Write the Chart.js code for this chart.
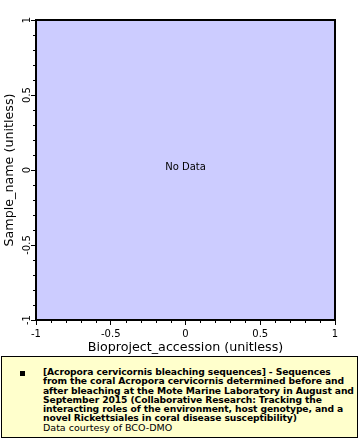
<!DOCTYPE html>
<html>
<head>
<meta charset="utf-8">
<script src="https://cdn.jsdelivr.net/npm/chart.js@4.4.0/dist/chart.umd.js"></script>
<style>
  html, body { margin: 0; padding: 0; background: #ffffff; }
  #wrap { position: relative; width: 360px; height: 440px; }
  #legend {
    position: absolute;
    left: 1px;
    top: 356px;
    width: 357px;
    height: 82px;
    box-sizing: border-box;
    background: #ffffcc;
    border: 1px solid #000000;
    font-family: 'DejaVu Sans', sans-serif;
    color: #000000;
  }
  #legend .mark {
    position: absolute;
    left: 18px;
    top: 14px;
    width: 5px;
    height: 5px;
    background: #000000;
  }
  #legend .txt {
    position: absolute;
    left: 41px;
    top: 10px;
    font-size: 9.5px;
    line-height: 9.3px;
    white-space: nowrap;
  }
  #legend .b { font-weight: bold; font-size: 9.2px; letter-spacing: -0.1px; }
</style>
</head>
<body>
<div id="wrap">
  <canvas id="chart" width="360" height="440"></canvas>
  <div id="legend"><div class="mark"></div><div class="txt" id="legendText"></div></div>
</div>
<script>
// data (the source has no points)
const points = [];
const xRange = [-1, 1];
const yRange = [-1, 1];
const xMajorTicks = [-1, -0.5, 0, 0.5, 1];
const yMajorTicks = [-1, -0.5, 0, 0.5, 1];
const minorTicks = [-0.9, -0.8, -0.7, -0.6, -0.4, -0.3, -0.2, -0.1, 0.1, 0.2, 0.3, 0.4, 0.6, 0.7, 0.8, 0.9];
const xTitle = 'Bioproject_accession (unitless)';
const yTitle = 'Sample_name (unitless)';
const emptyText = 'No Data';
const legendLines = [
    '[Acropora cervicornis bleaching sequences] - Sequences',
    'from the coral Acropora cervicornis determined before and',
    'after bleaching at the Mote Marine Laboratory in August and',
    'September 2015 (Collaborative Research: Tracking the',
    'interacting roles of the environment, host genotype, and a',
    'novel Rickettsiales in coral disease susceptibility)'
];
const legendCredit = 'Data courtesy of BCO-DMO';

// legende
const lt = document.getElementById('legendText');
lt.innerHTML = '<span class="b">' + legendLines.join('<br>') + '</span><br>' + legendCredit;

const tickFont = { family: 'DejaVu Sans', size: 10 };
const titleFont = { family: 'DejaVu Sans', size: 12.7 };

// fond, cadre, petits ticks, "No Data"
const framePlugin = {
    id: 'frame',
    beforeDraw(chart) {
        const a = chart.chartArea;
        const ctx = chart.ctx;
        ctx.save();
        ctx.fillStyle = '#ccccff';
        ctx.fillRect(a.left, a.top, a.right - a.left, a.bottom - a.top);
        ctx.restore();
    },
    afterDraw(chart) {
        const a = chart.chartArea;
        const ctx = chart.ctx;
        const xs = chart.scales.x;
        const ys = chart.scales.y;
        ctx.save();
        ctx.strokeStyle = '#000000';
        ctx.lineWidth = 1;
        ctx.beginPath();
        minorTicks.forEach(v => {
            const px = Math.round(xs.getPixelForValue(v)) + 0.5;
            ctx.moveTo(px, a.bottom);
            ctx.lineTo(px, a.bottom + 3);
            const py = Math.round(ys.getPixelForValue(v)) + 0.5;
            ctx.moveTo(a.left, py);
            ctx.lineTo(a.left - 3, py);
        });
        ctx.stroke();
        ctx.lineWidth = 2;
        ctx.strokeRect(a.left, a.top, a.right - a.left, a.bottom - a.top);
        if (!points.length) {
            ctx.fillStyle = '#000000';
            ctx.font = '10px "DejaVu Sans"';
            ctx.textAlign = 'center';
            ctx.textBaseline = 'middle';
            ctx.fillText(emptyText, (a.left + a.right) / 2, (a.top + a.bottom) / 2 - 3);
        }
        ctx.restore();
    }
};

new Chart(document.getElementById('chart'), {
    type: 'scatter',
    data: {
        datasets: [{
            data: points,
            backgroundColor: '#000000',
            pointRadius: 2
        }]
    },
    options: {
        responsive: false,
        animation: false,
        layout: { padding: { top: 20, right: 25, left: 0, bottom: 85 } },
        plugins: {
            legend: { display: false },
            tooltip: { enabled: false }
        },
        scales: {
            x: {
                type: 'linear',
                min: xRange[0],
                max: xRange[1],
                afterBuildTicks: s => { s.ticks = xMajorTicks.map(v => ({ value: v })); },
                afterFit: s => { s.height = 35; },
                ticks: {
                    color: '#000000',
                    font: tickFont,
                    padding: 3,
                    maxRotation: 0,
                    callback: v => String(v)
                },
                grid: {
                    drawOnChartArea: false,
                    tickLength: 5,
                    tickColor: '#000000',
                    tickWidth: 1
                },
                border: { display: false },
                title: {
                    display: true,
                    text: xTitle,
                    color: '#000000',
                    font: titleFont,
                    padding: { top: 0, bottom: 0 }
                }
            },
            y: {
                type: 'linear',
                min: yRange[0],
                max: yRange[1],
                afterBuildTicks: s => { s.ticks = yMajorTicks.map(v => ({ value: v })); },
                afterFit: s => { s.width = 36; },
                ticks: {
                    color: '#000000',
                    font: tickFont,
                    minRotation: 90,
                    maxRotation: 90,
                    crossAlign: 'center',
                    padding: -6,
                    callback: v => String(v)
                },
                grid: {
                    drawOnChartArea: false,
                    tickLength: 5,
                    tickColor: '#000000',
                    tickWidth: 1
                },
                border: { display: false },
                title: {
                    display: true,
                    text: yTitle,
                    color: '#000000',
                    font: titleFont,
                    padding: { top: 2, bottom: 0 }
                }
            }
        }
    },
    plugins: [framePlugin]
});
</script>
</body>
</html>
